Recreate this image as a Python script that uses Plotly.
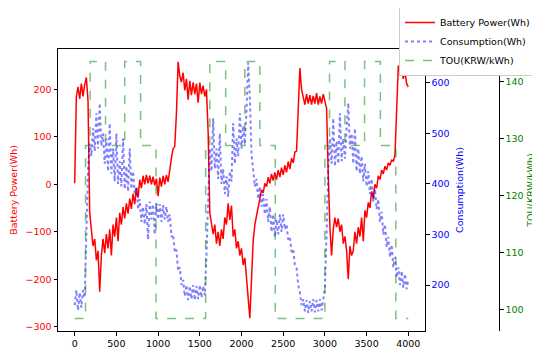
import plotly.graph_objects as go

# sampling step of the time index (samples)
step = 20

battery_power = [
    2, 185, 205, 180, 212, 185, 210, 225, 175, -60,
    -95, -130, -115, -160, -140, -226, -150, -115, -145, -105,
    -135, -95, -150, -85, -110, -70, -120, -60, -85, -48,
    -72, -40, -62, -30, -52, -20, -42, -8, -28, 10,
    -8, 18, 0, 20, 2, 18, 0, 16, -2, 12,
    -25, 14, -5, 18, 0, 20, 5, 35, 55, 75,
    80, 150, 258, 228, 215, 235, 198, 222, 178, 218,
    188, 215, 190, 212, 172, 214, 190, 208, 185, 200,
    110, -60, -80, -105, -85, -125, -100, -130, -95, -115,
    -70, -85, -40, -75, -45, -110, -95, -135, -120, -150,
    -135, -170, -155, -200, -250, -282, -200, -120, -85, -65,
    -45, -30, -12, -18, 2, -5, 15, 2, 22, 8,
    25, 10, 30, 15, 35, 20, 40, 25, 48, 32,
    55, 45, 68, 70, 150, 245, 200, 185, 168, 190,
    170, 188, 168, 186, 170, 192, 168, 185, 170, 190,
    172, 160, 20, -90, -150, -95, -70, -90, -72, -100,
    -85, -125, -110, -140, -200, -130, -150, -140, -100, -125,
    -90, -110, -70, -120, -55, -70, -38, -50, -15, -30,
    0, -8, 18, 10, 30, 22, 38, 30, 45, 40,
    52, 48, 62, 150, 250, 235, 245, 222, 238, 212,
    205,
]

consumption = [
    160, 190, 150, 185, 155, 190, 175, 300, 430, 480,
    455, 510, 465, 540, 470, 560, 475, 500, 440, 490,
    425, 520, 420, 470, 405, 500, 400, 445, 395, 490,
    390, 435, 385, 470, 390, 425, 380, 395, 350, 370,
    325, 355, 320, 360, 290, 365, 330, 360, 300, 362,
    330, 360, 325, 358, 330, 355, 325, 340, 295, 300,
    265, 270, 228, 235, 200, 210, 178, 200, 170, 198,
    172, 200, 170, 198, 172, 200, 175, 198, 180, 260,
    380, 470, 425, 530, 430, 470, 410, 500, 400, 430,
    380, 415, 375, 425, 405, 520, 440, 490, 455, 540,
    470, 515, 480, 545, 640, 570, 460, 430, 395, 410,
    370, 395, 355, 380, 340, 370, 325, 355, 305, 340,
    295, 330, 300, 340, 305, 340, 310, 320, 290, 295,
    265, 270, 240, 235, 200, 185, 160, 172, 148, 170,
    145, 168, 148, 172, 146, 170, 148, 172, 150, 170,
    195, 300, 430, 490, 440, 530, 435, 485, 440, 540,
    445, 490, 450, 510, 560, 470, 500, 440, 510, 425,
    470, 420, 455, 405, 440, 395, 425, 380, 410, 365,
    390, 350, 370, 325, 345, 300, 320, 275, 295, 255,
    280, 235, 255, 215, 235, 200, 228, 195, 222, 192,
    210,
]

time_index = [i * step for i in range(len(battery_power) - 1)] + [3999]

tou_time = [0, 130, 185, 370, 600, 790, 975, 1570, 1620, 1810, 2040, 2220, 2405,
            3000, 3055, 3240, 3475, 3665, 3850, 3999]
tou_rate = [98.5, 128.8, 143.5, 128.8, 143.5, 128.8, 98.5, 128.8, 143.5, 128.8, 143.5,
            128.8, 98.5, 128.8, 143.5, 128.8, 143.5, 128.8, 98.5, 98.5]

x_ticks = [0, 500, 1000, 1500, 2000, 2500, 3000, 3500, 4000]
bp_ticks = [-300, -200, -100, 0, 100, 200]
cons_ticks = [200, 300, 400, 500, 600]
tou_ticks = [100, 110, 120, 130, 140]

FONT = "DejaVu Sans"
TICK = 9.5
LABEL = 9.5

fig = go.Figure()
fig.add_trace(go.Scatter(x=time_index, y=battery_power, mode="lines", name="Battery Power(Wh)",
                         line=dict(color="#ff0000", width=1.5), yaxis="y"))
fig.add_trace(go.Scatter(x=time_index, y=consumption, mode="lines", name="Consumption(Wh)",
                         line=dict(color="rgba(0,0,255,0.5)", width=2, dash="dot"), yaxis="y2"))
fig.add_trace(go.Scatter(x=tou_time, y=tou_rate, mode="lines", name="TOU(KRW/kWh)", line_shape="hv",
                         line=dict(color="rgba(0,128,0,0.5)", width=1.5, dash="dash"), yaxis="y3"))

axis_common = dict(showgrid=False, zeroline=False, showline=True, linecolor="black", linewidth=1,
                   ticks="outside", ticklen=3.5, tickcolor="black", automargin=False)

# the page body adds an 8px offset, so the figure is 8px smaller and margins are reduced
fig.update_layout(
    width=532, height=341,
    margin=dict(l=50, r=0, t=41, b=18, autoexpand=False),
    paper_bgcolor="white", plot_bgcolor="white",
    font=dict(family=FONT, size=TICK, color="black"),
    xaxis=dict(domain=[0, 367 / 482], range=[-200, 4200], tickvals=x_ticks, mirror=True,
               tickfont=dict(color="black", size=TICK), **axis_common),
    yaxis=dict(range=[-309, 285], tickvals=bp_ticks,
               tickfont=dict(color="#ff0000", size=TICK),
               title=dict(text="Battery Power(Wh)", font=dict(color="#ff0000", size=LABEL), standoff=9),
               **axis_common),
    yaxis2=dict(range=[109, 667], tickvals=cons_ticks, overlaying="y", side="right",
                anchor="x", tickfont=dict(color="#0000ff", size=TICK),
                title=dict(text="Consumption(Wh)", font=dict(color="#0000ff", size=LABEL), standoff=7),
                **axis_common),
    yaxis3=dict(range=[96.3, 145.7], tickvals=tou_ticks, overlaying="y", side="right",
                anchor="free", position=441 / 482, tickfont=dict(color="#008000", size=TICK),
                title=dict(text="TOU(KRW/kWh)", font=dict(color="#008000", size=LABEL), standoff=4),
                **axis_common),
    legend=dict(x=341 / 482, y=(331 - 7) / 282, xanchor="left", yanchor="top",
                bgcolor="white", bordercolor="#cccccc", borderwidth=1,
                font=dict(family=FONT, size=LABEL, color="black"), itemwidth=30, tracegroupgap=0),
    showlegend=True,
)

fig.write_html("out.html")
